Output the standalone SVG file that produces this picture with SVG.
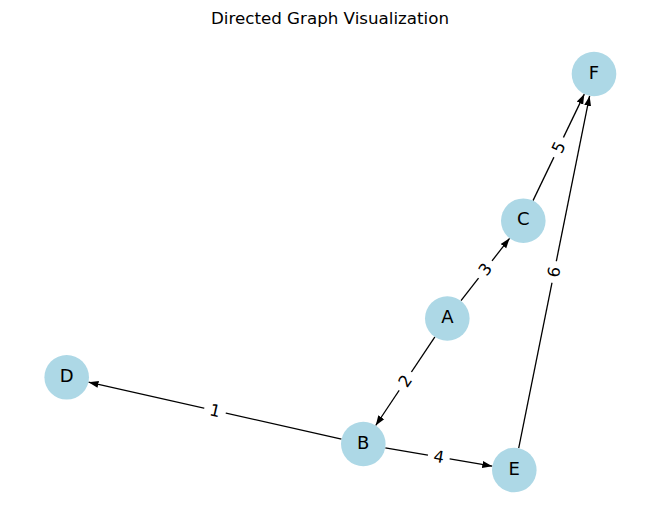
<svg xmlns="http://www.w3.org/2000/svg" width="660" height="522" viewBox="0 0 660 522">
<style>
.node{fill:#add8e6;}
.nlabel{font-family:"DejaVu Sans",sans-serif;font-size:18px;text-anchor:middle;fill:#000;}
.edge{stroke:#000;stroke-width:1.3;fill:none;marker-end:url(#arrow);}
.elabel{font-family:"DejaVu Sans",sans-serif;font-size:16.5px;text-anchor:middle;dominant-baseline:central;fill:#000;}
.lbox{fill:#fff;}
.title{font-family:"DejaVu Sans",sans-serif;font-size:16.7px;text-anchor:middle;fill:#000;}
</style>
<defs>
<marker id="arrow" markerUnits="userSpaceOnUse" markerWidth="12" markerHeight="10" refX="10" refY="4" orient="auto" viewBox="0 0 12 8">
<path d="M0,0.5 L10,4 L0,7.5 z" fill="#000"/>
</marker>
</defs>
<rect width="660" height="522" fill="#fff"/>
<text class="title" x="330" y="24">Directed Graph Visualization</text>
<g id="connectors">
<line class="edge" x1="461.0" y1="300.7" x2="509.6" y2="238.3"/>
<line class="edge" x1="434.9" y1="336.8" x2="375.7" y2="425.5"/>
<line class="edge" x1="533.0" y1="200.6" x2="584.3" y2="94.1"/>
<line class="edge" x1="518.7" y1="448.1" x2="589.6" y2="95.9"/>
<line class="edge" x1="341.5" y1="439.1" x2="88.5" y2="382.2"/>
<line class="edge" x1="385.3" y1="447.8" x2="492.3" y2="466.2"/>
<g transform="translate(485.3,269.5) rotate(-52.1)"><rect class="lbox" x="-11" y="-11" width="22" height="22" rx="3"/><text class="elabel" x="0" y="0">3</text></g>
<g transform="translate(405.3,381.2) rotate(-56.2)"><rect class="lbox" x="-11" y="-11" width="22" height="22" rx="3"/><text class="elabel" x="0" y="0">2</text></g>
<g transform="translate(558.7,147.4) rotate(-64.3)"><rect class="lbox" x="-11" y="-11" width="22" height="22" rx="3"/><text class="elabel" x="0" y="0">5</text></g>
<g transform="translate(554.2,272) rotate(-78.6)"><rect class="lbox" x="-11" y="-11" width="22" height="22" rx="3"/><text class="elabel" x="0" y="0">6</text></g>
<g transform="translate(215,410.7) rotate(12.7)"><rect class="lbox" x="-11" y="-11" width="22" height="22" rx="3"/><text class="elabel" x="0" y="0">1</text></g>
<g transform="translate(438.8,457) rotate(9.8)"><rect class="lbox" x="-11" y="-11" width="22" height="22" rx="3"/><text class="elabel" x="0" y="0">4</text></g>
</g>
<g id="node-A"><circle class="node" cx="447.3" cy="318.5" r="22.3"/><text class="nlabel" x="447.3" y="323.2">A</text></g>
<g id="node-B"><circle class="node" cx="363.3" cy="444" r="22.3"/><text class="nlabel" x="363.3" y="448.7">B</text></g>
<g id="node-C"><circle class="node" cx="523.3" cy="220.7" r="22.3"/><text class="nlabel" x="523.3" y="225.4">C</text></g>
<g id="node-D"><circle class="node" cx="66.7" cy="377.3" r="22.3"/><text class="nlabel" x="66.7" y="382">D</text></g>
<g id="node-E"><circle class="node" cx="514.3" cy="470" r="22.3"/><text class="nlabel" x="514.3" y="474.7">E</text></g>
<g id="node-F"><circle class="node" cx="594" cy="74" r="22.3"/><text class="nlabel" x="594" y="78.7">F</text></g>
</svg>
